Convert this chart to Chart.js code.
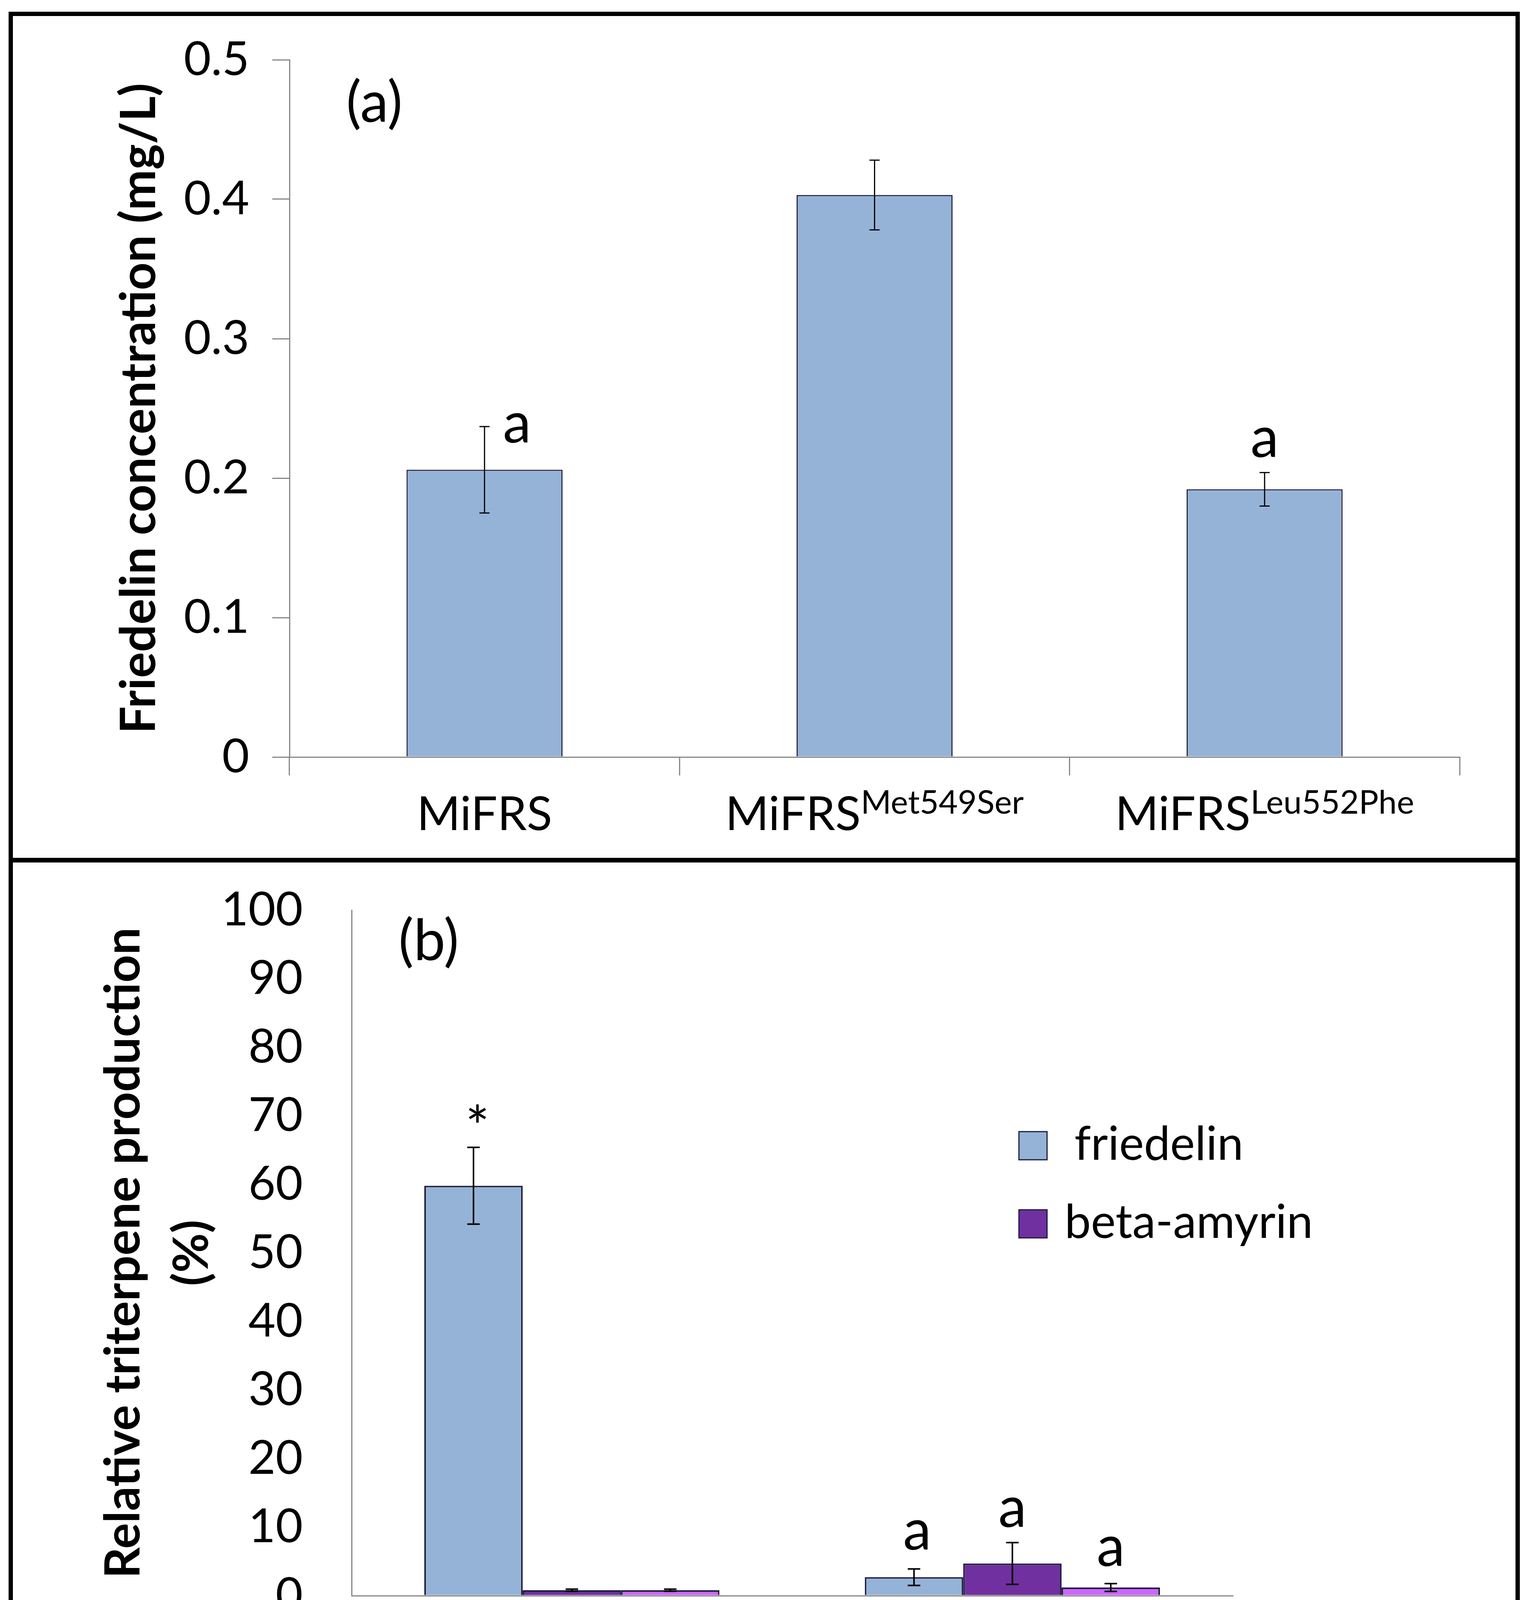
<!DOCTYPE html>
<html lang="en">
<head>
<meta charset="UTF-8">
<title>Friedelin production - MiFRS mutants</title>
<script src="https://cdn.jsdelivr.net/npm/chart.js@4.4.1/dist/chart.umd.min.js"></script>
<style>
  body { margin: 0; background: #fff; width: 3911px; height: 4396px; overflow: hidden; }
  #frame { position: absolute; left: 22px; top: 30px; width: 3868px; height: 4358px; border: 11px solid #000; box-sizing: border-box; }
  .panel { position: absolute; left: 0; width: 3846px; }
  #panelA { top: 0; height: 2155px; }
  #divider { position: absolute; left: 0; top: 2155px; width: 3846px; height: 12px; background: #000; }
  #panelB { top: 2167px; height: 2169px; }
</style>
</head>
<body>
<div id="frame">
  <div class="panel" id="panelA"><canvas id="chartA"></canvas></div>
  <div id="divider"></div>
  <div class="panel" id="panelB"><canvas id="chartB"></canvas></div>
</div>

<script>
  // ---- data: panel (a) ----
  const namesA = ['MiFRS', 'MiFRS', 'MiFRS'];
  const supsA = ['', 'Met549Ser', 'Leu552Phe'];
  const friedelinA = [0.206, 0.403, 0.192];
  const friedelinAErr = [0.031, 0.025, 0.012];
  const marksA = ['a', '', 'a'];
  const ticksA = { min: 0, max: 0.5, step: 0.1 };

  // ---- data: panel (b) ----
  const namesB = ['MiFRS', 'MiFRS'];
  const supsB = ['Met549Ser', 'Leu552Phe'];
  const seriesB = ['friedelin', 'beta-amyrin', 'other'];
  const friedelinB = [59.8, 2.7];
  const friedelinBErr = [5.6, 1.2];
  const betaB = [0.8, 4.7];
  const betaBErr = [0.15, 3.05];
  const otherB = [0.8, 1.2];
  const otherBErr = [0.15, 0.57];
  const marksFriedelinB = ['*', 'a'];
  const marksBetaB = ['', 'a'];
  const marksOtherB = ['', 'a'];
  const ticksB = { min: 0, max: 100, step: 10 };

  // label nudges (px), kept apart from the data
  const nudgeA = [[83, 41], [0, 0], [0, -40]];
  const nudgeB = [[[10, 0], [8, -50]], [[0, 0], [0, -40]], [[0, 0], [0, -45]]];

  const AXIS = '#878787';
  const BLUE = '#95B3D7', PURPLE = '#7030A0', LILAC = '#CC66FF', EDGE = '#1c1c3c';
  const FONT = 'Lato';

  // error bars from each dataset's "errors" array
  const errorBars = {
    id: 'errorBars',
    afterDatasetsDraw(chart, args, opts) {
      const { ctx } = chart, y = chart.scales.y;
      ctx.save();
      ctx.strokeStyle = '#000';
      ctx.lineWidth = opts.width;
      chart.data.datasets.forEach((ds, i) => {
        chart.getDatasetMeta(i).data.forEach((bar, j) => {
          const v = ds.data[j], e = ds.errors[j];
          const top = y.getPixelForValue(v + e), bot = y.getPixelForValue(v - e);
          ctx.beginPath();
          ctx.moveTo(bar.x, top); ctx.lineTo(bar.x, bot);
          ctx.moveTo(bar.x - opts.cap, top); ctx.lineTo(bar.x + opts.cap, top);
          ctx.moveTo(bar.x - opts.cap, bot); ctx.lineTo(bar.x + opts.cap, bot);
          ctx.stroke();
        });
      });
      ctx.restore();
    }
  };

  // significance letters above the error bars
  const sigMarks = {
    id: 'sigMarks',
    afterDatasetsDraw(chart, args, opts) {
      const { ctx } = chart, y = chart.scales.y;
      ctx.save();
      ctx.fillStyle = '#000';
      ctx.font = opts.size + 'px ' + FONT;
      ctx.textAlign = 'center';
      ctx.textBaseline = 'alphabetic';
      chart.data.datasets.forEach((ds, i) => {
        chart.getDatasetMeta(i).data.forEach((bar, j) => {
          const txt = ds.marks[j];
          if (!txt) return;
          const [dx, dy] = ds.nudge[j];
          const top = y.getPixelForValue(ds.data[j] + ds.errors[j]);
          ctx.fillText(txt, bar.x + dx, top + dy);
        });
      });
      ctx.restore();
    }
  };

  // category names with superscript mutation
  const supLabels = {
    id: 'supLabels',
    afterDraw(chart, args, opts) {
      const { ctx } = chart, x = chart.scales.x;
      ctx.save();
      ctx.fillStyle = '#000';
      ctx.textBaseline = 'alphabetic';
      ctx.textAlign = 'left';
      opts.names.forEach((name, i) => {
        const sup = opts.sups[i];
        ctx.font = opts.size + 'px ' + FONT;
        const w1 = ctx.measureText(name).width;
        ctx.font = opts.supSize + 'px ' + FONT;
        const w2 = sup ? ctx.measureText(sup).width : 0;
        const cx = x.getPixelForValue(i);
        const left = cx - (w1 + w2) / 2;
        const base = x.top + opts.offset;
        ctx.font = opts.size + 'px ' + FONT;
        ctx.fillText(name, left, base);
        if (sup) {
          ctx.font = opts.supSize + 'px ' + FONT;
          ctx.fillText(sup, left + w1, base - opts.raise);
        }
      });
      ctx.restore();
    }
  };

  // "(a)" / "(b)" panel tags
  const panelTag = {
    id: 'panelTag',
    afterDraw(chart, args, opts) {
      const { ctx, chartArea } = chart;
      ctx.save();
      ctx.fillStyle = '#000';
      ctx.font = opts.size + 'px ' + FONT;
      ctx.textAlign = 'left';
      ctx.textBaseline = 'alphabetic';
      ctx.fillText(opts.text, chartArea.left + opts.dx, chartArea.top + opts.dy);
      ctx.restore();
    }
  };

  // legend drawn inside the plot, only for series flagged inLegend
  const boxLegend = {
    id: 'boxLegend',
    afterDraw(chart, args, opts) {
      const { ctx, chartArea } = chart;
      ctx.save();
      ctx.font = opts.size + 'px ' + FONT;
      ctx.textBaseline = 'alphabetic';
      ctx.textAlign = 'left';
      let row = 0;
      chart.data.datasets.forEach(ds => {
        if (!ds.inLegend) return;
        const bx = chartArea.left + opts.dx;
        const by = chartArea.top + opts.dy + row * opts.rowGap;
        ctx.fillStyle = ds.backgroundColor;
        ctx.fillRect(bx, by, opts.box, opts.box);
        ctx.strokeStyle = EDGE;
        ctx.lineWidth = 3;
        ctx.strokeRect(bx, by, opts.box, opts.box);
        ctx.fillStyle = '#000';
        ctx.fillText(ds.label, bx + opts.box + opts.textGap[row], by + opts.box);
        row++;
      });
      ctx.restore();
    }
  };

  function makeChart(id, cfg) {
    return new Chart(document.getElementById(id), {
      type: 'bar',
      data: { labels: cfg.labels, datasets: cfg.datasets },
      options: {
        responsive: true,
        maintainAspectRatio: false,
        animation: false,
        layout: { padding: cfg.padding },
        plugins: Object.assign({ legend: { display: false }, tooltip: { enabled: false } }, cfg.plugins),
        scales: {
          x: {
            ticks: { display: false },
            grid: { offset: true, drawOnChartArea: false, drawTicks: cfg.xTicks, tickLength: 47, color: AXIS, lineWidth: 3 },
            border: { display: true, color: AXIS, width: 3 },
            afterFit: s => { s.height = cfg.xHeight; }
          },
          y: {
            min: cfg.range.min, max: cfg.range.max,
            ticks: { stepSize: cfg.range.step, color: '#000', font: { family: FONT, size: 120 }, padding: cfg.tickPad },
            grid: { drawOnChartArea: false, drawTicks: cfg.yTicks, tickLength: 44, color: AXIS, lineWidth: 3 },
            border: { display: true, color: AXIS, width: 3 },
            title: {
              display: true, text: cfg.yTitle, color: '#000',
              font: { family: FONT, size: 124, weight: 'bold', lineHeight: 1.41 },
              padding: { top: cfg.titlePad, bottom: 0 }
            },
            // fixed axis width; drop the label overhang so the plot top/bottom stay where set
            afterFit: s => { s.width = cfg.yWidth; s.paddingTop = 0; s.paddingBottom = 0; }
          }
        }
      },
      plugins: cfg.extra
    });
  }

  function init() {
    makeChart('chartA', {
      labels: namesA.map((n, i) => n + supsA[i]),
      datasets: [{
        label: 'friedelin', data: friedelinA, errors: friedelinAErr, marks: marksA, nudge: nudgeA,
        backgroundColor: BLUE, borderColor: EDGE, borderWidth: 3,
        categoryPercentage: 0.4, barPercentage: 1
      }],
      range: ticksA,
      padding: { left: 0, right: 143, top: 112, bottom: 0 },
      xHeight: 258, yWidth: 708, tickPad: 59, titlePad: 237,
      xTicks: true, yTicks: true,
      yTitle: 'Friedelin concentration (mg/L)',
      plugins: {
        errorBars: { width: 3, cap: 13 },
        sigMarks: { size: 145 },
        supLabels: { names: namesA, sups: supsA, size: 120, supSize: 84, raise: 42, offset: 187 },
        panelTag: { text: '(a)', size: 145, dx: 145, dy: 159 }
      },
      extra: [errorBars, sigMarks, supLabels, panelTag]
    });

    const colorsB = [BLUE, PURPLE, LILAC];
    const valuesB = [friedelinB, betaB, otherB];
    const errsB = [friedelinBErr, betaBErr, otherBErr];
    const marksB = [marksFriedelinB, marksBetaB, marksOtherB];
    makeChart('chartB', {
      labels: namesB.map((n, i) => n + supsB[i]),
      datasets: seriesB.map((name, k) => ({
        label: name, data: valuesB[k], errors: errsB[k], marks: marksB[k], nudge: nudgeB[k],
        inLegend: k < 2,
        backgroundColor: colorsB[k], borderColor: EDGE, borderWidth: 4,
        categoryPercentage: 0.67, barPercentage: 1
      })),
      range: ticksB,
      padding: { left: 0, right: 724, top: 122, bottom: 0 },
      xHeight: 292, yWidth: 867, tickPad: 125, titlePad: 197,
      xTicks: false, yTicks: false,
      yTitle: ['Relative triterpene production', '(%)'],
      plugins: {
        errorBars: { width: 4, cap: 16 },
        sigMarks: { size: 145 },
        supLabels: { names: namesB, sups: supsB, size: 120, supSize: 84, raise: 42, offset: 180 },
        panelTag: { text: '(b)', size: 145, dx: 120, dy: 128 },
        boxLegend: { size: 120, box: 72, dx: 1708, dy: 567, rowGap: 200, textGap: [70, 45] }
      },
      extra: [errorBars, sigMarks, supLabels, panelTag, boxLegend]
    });
  }

  document.fonts.load('120px Lato').then(init, init);
</script>
</body>
</html>
